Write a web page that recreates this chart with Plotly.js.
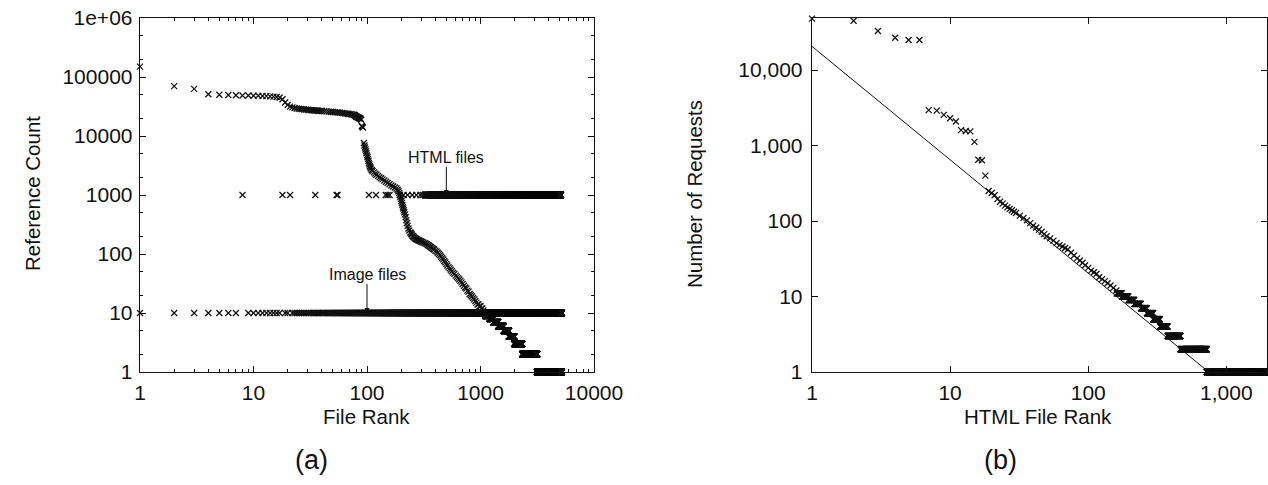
<!DOCTYPE html>
<html>
<head>
<meta charset="utf-8">
<script src="https://cdn.plot.ly/plotly-3.0.1.min.js"></script>
<style>
  html, body { margin: 0; padding: 0; background: #ffffff; }
  #chart { width: 1268px; height: 485px; }
</style>
</head>
<body>
<div id="chart"></div>
<script>
// ---- (a) reference count of every file, by rank ----
const refRank = [1, 2, 3, 4, 5, 6, 7, 8, 9, 10, 11, 12, 13, 14, 15, 16, 17, 18, 19, 20,
  21, 22, 23, 24, 25, 26, 27, 28, 29, 30, 31, 32, 33, 34, 35, 36, 37, 38, 39, 40,
  42, 44, 46, 48, 50, 52, 54, 56, 58, 60, 62, 64, 66, 68, 70, 72, 74, 76, 77, 78,
  79, 80, 81, 82, 83, 84, 85, 86, 87, 88, 89, 90, 91, 92, 94, 95, 96, 97, 98, 99,
  100, 101, 102, 103, 104, 105, 106, 107, 108, 110, 112, 115, 118, 121, 125, 129, 133, 137, 142, 147,
  152, 158, 164, 170, 176, 182, 186, 189, 192, 195, 197, 199, 201, 203, 205, 207, 209, 211, 213, 216,
  219, 222, 225, 228, 232, 236, 241, 244, 247, 250, 254, 258, 262, 266, 270, 275, 280, 285, 290, 295,
  300, 307, 315, 322, 330, 337, 345, 352, 360, 367, 375, 382, 390, 400, 410, 420, 430, 440, 450, 460,
  470, 480, 490, 500, 510, 522, 535, 547, 560, 575, 590, 605, 620, 635, 650, 665, 680, 697, 715, 732,
  750, 767, 785, 802, 820, 840, 860, 880, 900, 920, 940, 960, 980, 1000, 1020, 1040, 1060];
const refCount = [150000, 70000, 63000, 51000, 50000, 49500, 49000, 48700, 48500, 48200, 48000, 47700, 47400, 47000, 46500, 45800, 45000, 42000, 37000, 33500,
  31500, 30500, 29800, 29300, 29000, 28700, 28500, 28200, 28000, 27800, 27600, 27450, 27300, 27200, 27100, 27000, 26850, 26700, 26600, 26500,
  26300, 26100, 25900, 25700, 25500, 25300, 25150, 25000, 24800, 24600, 24400, 24200, 24000, 23800, 23600, 23400, 23200, 23000, 22800, 22500,
  22000, 21500, 21200, 21000, 20700, 20500, 20200, 20000, 19800, 19500, 18800, 14800, 14300, 13900, 7600, 6900, 6400, 5900, 5500, 5100,
  4700, 4400, 4100, 3800, 3500, 3300, 3100, 2950, 2800, 2650, 2550, 2420, 2300, 2200, 2100, 2000, 1920, 1840, 1760, 1680,
  1600, 1520, 1450, 1390, 1340, 1290, 1230, 1160, 1080, 1000, 920, 850, 790, 730, 680, 630, 590, 550, 510, 470,
  420, 375, 335, 300, 270, 250, 232, 223, 215, 207, 200, 194, 188, 184, 180, 176, 173, 170, 168, 165,
  163, 160, 156, 153, 150, 146, 142, 138, 134, 130, 126, 122, 119, 114, 110, 105, 100, 95, 90, 85,
  81, 76, 72, 68, 64, 60, 57, 54, 51, 48, 46, 43, 41, 39, 37, 35, 33, 31, 29, 27,
  26, 24, 23, 21, 20, 19, 18, 17, 16, 15, 14, 14, 13, 13, 12, 12, 11];
// tail of the ranking: runs of files sharing one count [first rank, last rank, count]
const refRuns = [[1061, 1100, 10], [1101, 1200, 9], [1201, 1300, 8], [1301, 1430, 7], [1431, 1600, 6],
  [1601, 1780, 5], [1781, 1980, 4], [1981, 2330, 3], [2331, 3150, 2], [3151, 5200, 1]];

// file-type strips: HTML ranks drawn at 1000, image ranks drawn at 10
const htmlLevel = 1000;
const imageLevel = 10;
const htmlRanks = [8, 18, 21, 35, 54, 55, 104, 120, 146, 152, 158, 195, 210, 228, 250, 272, 295, 310];
const htmlRuns = [[323, 5100]];
const imageRanks = [];
const imageRuns = [[1, 7], [9, 17], [19, 20], [22, 5200]];

// ---- (b) requests per HTML file, by rank ----
const reqRank = [1, 2, 3, 4, 5, 6, 7, 8, 9, 10, 11, 12, 13, 14, 15, 16, 17, 18, 19, 20,
  21, 22, 23, 24, 25, 26, 27, 28, 29, 30, 32, 34, 36, 38, 40, 42, 44, 46, 48, 50,
  53, 56, 59, 62, 65, 68, 71, 75, 79, 83, 87, 91, 95, 100, 105, 110, 115, 120, 126, 132,
  138, 145, 152, 160];
const reqCount = [48000, 45000, 33000, 26800, 25000, 25000, 2950, 2900, 2550, 2300, 2080, 1600, 1560, 1540, 1120, 650, 640, 400, 250, 235,
  220, 195, 180, 170, 160, 152, 145, 139, 133, 128, 118, 110, 102, 94, 87, 82, 77, 72, 67, 63,
  59, 55, 51, 48, 46, 44, 42, 38, 35, 32, 30, 28, 26, 24, 22, 21, 20, 18, 17, 16,
  15, 14, 13, 12];
const reqRuns = [[161, 175, 11], [176, 195, 10], [196, 215, 9], [216, 240, 8], [241, 265, 7],
  [266, 295, 6], [296, 330, 5], [331, 375, 4], [376, 465, 3], [466, 720, 2], [721, 1970, 1]];

// power-law fit drawn as a straight line on log-log axes
const fitRank = [1, 745];
const fitCount = [20600, 1];

// tick labels
const xTicksA = ['1', '10', '100', '1000', '10000'];
const yTicksA = ['1', '10', '100', '1000', '10000', '100000', '1e+06'];
const xTicksB = ['1', '10', '100', '1,000'];
const yTicksB = ['1', '10', '100', '1,000', '10,000'];

// ---- helpers ----
function withRuns(ranks, counts, runs) {
  const xs = ranks.slice(), ys = counts.slice();
  for (const [a, b, c] of runs) for (let r = a; r <= b; r++) { xs.push(r); ys.push(c); }
  return [xs, ys];
}
function rankList(ranks, runs) {
  const xs = ranks.slice();
  for (const [a, b] of runs) for (let r = a; r <= b; r++) xs.push(r);
  return xs;
}
const decades = n => Array.from({length: n}, (_, i) => Math.pow(10, i));

const [refX, refY] = withRuns(refRank, refCount, refRuns);
const htmlX = rankList(htmlRanks, htmlRuns);
const imageX = rankList(imageRanks, imageRuns);
const [reqX, reqY] = withRuns(reqRank, reqCount, reqRuns);

const FONT = 'Liberation Sans, Arial, Helvetica, sans-serif';
const INK = '#111111';
const mark = {symbol: 'x-thin', size: 6, color: INK, line: {width: 1.25, color: INK}};

const traces = [
  {x: refX, y: refY, mode: 'markers', marker: mark, xaxis: 'x', yaxis: 'y', cliponaxis: false, hoverinfo: 'skip'},
  {x: htmlX, y: htmlX.map(() => htmlLevel), mode: 'markers', marker: mark, xaxis: 'x', yaxis: 'y', cliponaxis: false, hoverinfo: 'skip'},
  {x: imageX, y: imageX.map(() => imageLevel), mode: 'markers', marker: mark, xaxis: 'x', yaxis: 'y', cliponaxis: false, hoverinfo: 'skip'},
  {x: reqX, y: reqY, mode: 'markers', marker: mark, xaxis: 'x2', yaxis: 'y2', cliponaxis: false, hoverinfo: 'skip'},
  {x: fitRank, y: fitCount, mode: 'lines', line: {color: INK, width: 1}, xaxis: 'x2', yaxis: 'y2', hoverinfo: 'skip'}
];

const W = 1268, H = 485;
const px = v => v / W;
const py = v => 1 - v / H;

function logAxis(range, domain, vals, text, minorDtick, anchor, standoff) {
  const ax = {
    type: 'log', range: range, domain: domain, anchor: anchor,
    showline: true, linecolor: INK, linewidth: 1.3, mirror: 'ticks',
    showgrid: false, zeroline: false,
    ticks: 'inside', ticklen: 6, tickwidth: 1, tickcolor: INK,
    tickmode: 'array', tickvals: vals, ticktext: text,
    ticklabelstandoff: standoff,
    tickfont: {family: FONT, size: 21, color: INK}
  };
  if (minorDtick) ax.minor = {ticks: 'inside', ticklen: 3, tickwidth: 1, tickcolor: INK, dtick: minorDtick, showgrid: false};
  return ax;
}

const titleFont = {family: FONT, size: 20.5, color: INK};
const layout = {
  width: W, height: H,
  margin: {l: 0, r: 0, t: 0, b: 0, pad: 0},
  paper_bgcolor: '#ffffff', plot_bgcolor: '#ffffff',
  showlegend: false,
  font: {family: FONT, color: INK},
  xaxis: logAxis([0, 4], [px(140), px(594)], decades(5), xTicksA, 'D1', 'y', 1),
  yaxis: logAxis([0, 6], [py(372), py(18)], decades(7), yTicksA, 'D2', 'x', 2),
  xaxis2: logAxis([0, Math.log10(1970)], [px(812), px(1267)], decades(4), xTicksB, null, 'y2', 1),
  yaxis2: logAxis([0, Math.log10(49000)], [py(372), py(18)], decades(5), yTicksB, null, 'x2', 4),
  annotations: [
    {xref: 'paper', yref: 'paper', x: px(367), y: py(416), text: 'File Rank', showarrow: false,
     font: titleFont, xanchor: 'center', yanchor: 'middle'},
    {xref: 'paper', yref: 'paper', x: px(32), y: py(194), text: 'Reference Count', showarrow: false, textangle: -90,
     font: titleFont, xanchor: 'center', yanchor: 'middle'},
    {xref: 'paper', yref: 'paper', x: px(1038), y: py(416), text: 'HTML File Rank', showarrow: false,
     font: titleFont, xanchor: 'center', yanchor: 'middle'},
    {xref: 'paper', yref: 'paper', x: px(694), y: py(194), text: 'Number of Requests', showarrow: false, textangle: -90,
     font: titleFont, xanchor: 'center', yanchor: 'middle'},
    {xref: 'paper', yref: 'paper', x: px(311), y: py(460), text: '(a)', showarrow: false,
     font: {family: FONT, size: 27, color: INK}, xanchor: 'center', yanchor: 'middle'},
    {xref: 'paper', yref: 'paper', x: px(1000), y: py(460), text: '(b)', showarrow: false,
     font: {family: FONT, size: 27, color: INK}, xanchor: 'center', yanchor: 'middle'},
    {xref: 'x', yref: 'y', x: Math.log10(500), y: Math.log10(htmlLevel), text: 'HTML files',
     showarrow: true, ax: 0, ay: -38, arrowhead: 2, arrowsize: 1, arrowwidth: 1, arrowcolor: INK,
     font: {family: FONT, size: 16, color: INK}},
    {xref: 'x', yref: 'y', x: 2, y: Math.log10(imageLevel), text: 'Image files',
     showarrow: true, ax: 0, ay: -39, arrowhead: 2, arrowsize: 1, arrowwidth: 1, arrowcolor: INK,
     font: {family: FONT, size: 16, color: INK}}
  ]
};

Plotly.newPlot('chart', traces, layout, {staticPlot: true, displayModeBar: false});
</script>
</body>
</html>
